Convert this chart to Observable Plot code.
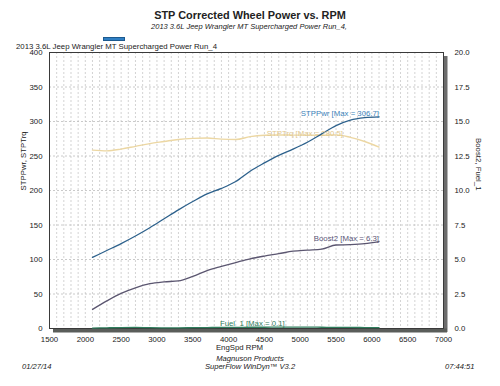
<!DOCTYPE html>
<html>
<head>
<meta charset="utf-8">
<script src="https://cdn.jsdelivr.net/npm/d3@7"></script>
<script src="https://cdn.jsdelivr.net/npm/@observablehq/plot@0.6"></script>
<style>
  html, body { margin: 0; padding: 0; background: #fff; }
  #wrap { position: relative; width: 500px; height: 386px; font-family: "Liberation Sans", Arial, sans-serif; color: #222; overflow: hidden; }
  #wrap svg { position: absolute; left: 0; top: 0; }
  .t { position: absolute; white-space: nowrap; line-height: 1; }
</style>
</head>
<body>
<div id="wrap">
  <div class="t" style="left:0;width:500px;text-align:center;top:10px;font-size:10.9px;font-weight:bold;">STP Corrected Wheel Power vs. RPM</div>
  <div class="t" style="left:0;width:498px;text-align:center;top:23px;font-size:7.5px;font-style:italic;">2013 3.6L Jeep Wrangler MT Supercharged Power Run_4,</div>
  <div class="t" style="left:103px;top:37px;width:22px;height:4px;background:#2f7fc4;border:0.5px solid #1c5a8f;box-sizing:border-box;"></div>
  <div class="t" style="left:16px;top:43px;font-size:7.8px;">2013 3.6L Jeep Wrangler MT Supercharged Power Run_4</div>
  <div class="t" style="left:0;width:500px;text-align:center;top:355px;font-size:7.6px;font-style:italic;">Magnuson Products</div>
  <div class="t" style="left:0;width:500px;text-align:center;top:363px;font-size:7.6px;font-style:italic;">SuperFlow WinDyn™ V3.2</div>
  <div class="t" style="left:22px;top:363px;font-size:7.6px;font-style:italic;">01/27/14</div>
  <div class="t" style="left:445px;top:363px;font-size:7.6px;font-style:italic;">07:44:51</div>
</div>
<script>
// ---- data ----
const rpm = [2100, 2300, 2500, 2700, 2900, 3100, 3300, 3500, 3700, 3900, 4100, 4300, 4500, 4700, 4900, 5100, 5300, 5500, 5700, 5900, 6100];
const stpPwr = [103, 113, 123, 134, 146, 159, 172, 184, 195, 203, 213, 228, 240, 251, 260, 270, 282, 294, 302, 305.5, 306.7];
const stpTrq = [258.5, 257.5, 260, 264, 268, 271, 274, 275.5, 276, 274.5, 274, 278, 280, 280.5, 280.3, 280.2, 280.1, 280.6, 277, 271, 263];
const boost2 = [1.38, 2.0, 2.55, 2.95, 3.25, 3.38, 3.45, 3.78, 4.2, 4.5, 4.78, 5.05, 5.25, 5.42, 5.6, 5.68, 5.75, 6.05, 6.08, 6.15, 6.3];
const fuel1 = [0.03, 0.05, 0.07, 0.08, 0.06, 0.05, 0.05, 0.06, 0.07, 0.08, 0.08, 0.09, 0.09, 0.1, 0.1, 0.1, 0.09, 0.08, 0.08, 0.07, 0.06];
const xTicks = [1500, 2000, 2500, 3000, 3500, 4000, 4500, 5000, 5500, 6000, 6500, 7000];
const yTicks = [0, 50, 100, 150, 200, 250, 300, 350, 400];
const rightTickLabels = ["0.0", "2.5", "5.0", "7.5", "10.0", "12.5", "15.0", "17.5", "20.0"];
const seriesNames = ["STPPwr", "STPTrq", "Boost2", "Fuel_1"];
const maxLabels = ["306.7", "280.5", "6.3", "0.1"];

// right axis (0–20) shares the left scale: 20 ↔ 400
const rightFactor = 400 / 20;

const rows = rpm.map((r, i) => ({rpm: r, pwr: stpPwr[i], trq: stpTrq[i], boost: boost2[i], fuel: fuel1[i]}));
const gridX = d3.range(1500, 7001, 100);

const C = {pwr: "#2d618c", pwrT: "#3c84ba", trq: "#ecd7a3", trqT: "#e2c88e", boost: "#5b5670", boostT: "#5a5577", fuel: "#2f7d5c"};

function maxRow(key) { return d3.greatest(rows, d => d[key]); }
const fs = 7.8;

const plot = Plot.plot({
  width: 500,
  height: 386,
  marginLeft: 49,
  marginRight: 57,
  marginTop: 52,
  marginBottom: 58,
  style: {fontFamily: "'Liberation Sans', Arial, sans-serif", fontSize: fs + "px", color: "#222", background: "transparent", overflow: "visible"},
  x: {domain: [1500, 7000]},
  y: {domain: [0, 400]},
  marks: [
    // grid
    Plot.ruleX(gridX, {stroke: "#c8c8c8", strokeWidth: 0.8, strokeDasharray: "2,2"}),
    Plot.ruleY(yTicks, {stroke: "#bdbdbd", strokeWidth: 0.8, strokeDasharray: "2,2"}),
    // frame shadow
    Plot.ruleX([7000], {stroke: "#6d6d6d", strokeWidth: 4, dx: 2, insetTop: 4, insetBottom: -4}),
    Plot.ruleY([0], {stroke: "#5a5d5a", strokeWidth: 4, dy: 2, insetLeft: 4, insetRight: -4}),
    Plot.frame({stroke: "#3a3a3a", strokeWidth: 1}),
    // axes
    Plot.axisX({ticks: xTicks, tickSize: 0, tickPadding: 8, tickFormat: d => String(d), label: null, fontSize: fs}),
    Plot.axisY({ticks: yTicks, tickSize: 0, tickPadding: 7, tickFormat: d => String(d), label: null, fontSize: fs}),
    Plot.axisY({anchor: "right", ticks: yTicks, tickSize: 0, tickPadding: 11, tickFormat: (d, i) => rightTickLabels[yTicks.indexOf(d)], label: null, fontSize: fs, textAnchor: "start"}),
    // axis titles
    Plot.text(["STPPwr, STPTrq"], {frameAnchor: "left", dx: -26, rotate: -90, fontSize: fs, fill: "#222"}),
    Plot.text(["Boost2, Fuel_1"], {frameAnchor: "right", dx: 35, rotate: 90, fontSize: fs, fill: "#222"}),
    Plot.text(["EngSpd RPM"], {frameAnchor: "bottom", dx: -7, dy: 21.5, fontSize: fs, fill: "#222"}),
    // series
    Plot.line(rows, {x: "rpm", y: d => d.fuel * rightFactor, stroke: C.fuel, strokeWidth: 1.3, curve: "monotone-x"}),
    Plot.line(rows, {x: "rpm", y: "trq", stroke: C.trq, strokeWidth: 1.4, curve: "monotone-x"}),
    Plot.line(rows, {x: "rpm", y: d => d.boost * rightFactor, stroke: C.boost, strokeWidth: 1.3, curve: "monotone-x"}),
    Plot.line(rows, {x: "rpm", y: "pwr", stroke: C.pwr, strokeWidth: 1.3, curve: "monotone-x"}),
    // max labels
    Plot.text([maxRow("pwr")], {x: "rpm", y: "pwr", text: () => `${seriesNames[0]} [Max = ${maxLabels[0]}]`, textAnchor: "end", lineAnchor: "bottom", dy: -1, fill: C.pwrT, fontSize: fs}),
    Plot.text([maxRow("trq")], {x: "rpm", y: "trq", text: () => `${seriesNames[1]} [Max = ${maxLabels[1]}]`, textAnchor: "end", lineAnchor: "middle", dx: 7, dy: -1, fill: C.trqT, fontSize: fs}),
    Plot.text([maxRow("boost")], {x: "rpm", y: d => d.boost * rightFactor, text: () => `${seriesNames[2]} [Max = ${maxLabels[2]}]`, textAnchor: "end", lineAnchor: "bottom", dy: -1, fill: C.boostT, fontSize: fs}),
    Plot.text([maxRow("fuel")], {x: "rpm", y: d => d.fuel * rightFactor, text: () => `${seriesNames[3]} [Max = ${maxLabels[3]}]`, textAnchor: "end", lineAnchor: "bottom", dx: 6, dy: -1, fill: C.fuel, fontSize: fs})
  ]
});
document.getElementById("wrap").prepend(plot);
</script>
</body>
</html>
